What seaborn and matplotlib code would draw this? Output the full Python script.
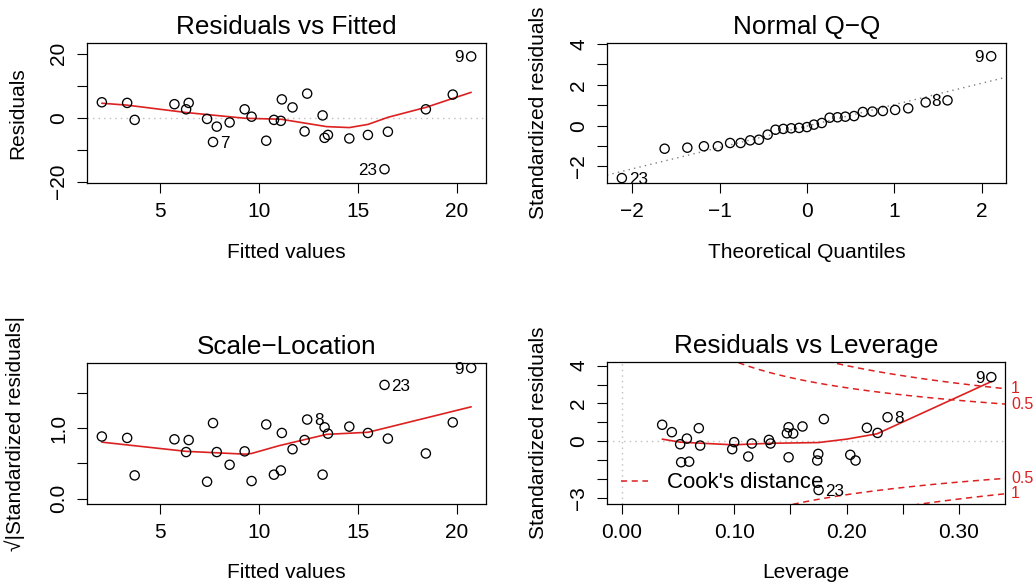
import numpy as np
import pandas as pd
import matplotlib
matplotlib.use("Agg")
import matplotlib.pyplot as plt
import seaborn as sns

# ---------------- data ----------------
fitted = [2.04, 3.32, 3.70, 5.71, 6.43, 6.30, 7.36, 7.85, 7.66, 8.50,
          9.26, 9.61, 10.35, 10.74, 11.09, 11.14, 11.68, 12.42, 12.29, 13.20,
          13.30, 13.47, 14.55, 15.49, 16.50, 16.33, 18.42, 19.78, 20.71]
residuals = [4.8, 4.6, -0.7, 4.2, 4.6, 2.6, -0.4, -2.8, -7.6, -1.5,
             2.6, 0.3, -7.2, -0.7, -1.0, 5.7, 3.2, 7.5, -4.3, 0.7,
             -6.3, -5.4, -6.5, -5.4, -4.4, -16.1, 2.6, 7.2, 19.1]
sqrt_abs_std_resid = [0.88, 0.86, 0.33, 0.84, 0.83, 0.66, 0.24, 0.66, 1.07, 0.48,
                      0.67, 0.25, 1.05, 0.34, 0.40, 0.93, 0.70, 1.12, 0.83, 0.34,
                      1.01, 0.92, 1.02, 0.93, 0.85, 1.61, 0.64, 1.08, 1.85]
theoretical_q = [-2.12, -1.63, -1.37, -1.18, -1.02, -0.88, -0.76, -0.65, -0.55, -0.45,
                 -0.36, -0.27, -0.18, -0.09, 0.00, 0.08, 0.17, 0.26, 0.35, 0.44,
                 0.54, 0.64, 0.75, 0.87, 1.01, 1.16, 1.36, 1.61, 2.11]
sample_q = [-2.57, -1.13, -1.08, -1.01, -1.01, -0.85, -0.85, -0.72, -0.69, -0.44,
            -0.20, -0.16, -0.13, -0.11, -0.07, 0.05, 0.13, 0.39, 0.41, 0.44,
            0.47, 0.67, 0.69, 0.72, 0.77, 0.85, 1.14, 1.24, 3.40]
leverage = [0.0359, 0.0445, 0.0519, 0.0579, 0.0528, 0.0599, 0.0685, 0.0697, 0.0982, 0.1000,
            0.1125, 0.1157, 0.1309, 0.1323, 0.1469, 0.1484, 0.1525, 0.1484, 0.1608, 0.1748,
            0.1739, 0.1798, 0.1751, 0.2033, 0.2080, 0.2181, 0.2276, 0.2365, 0.3288]
std_resid_lev = [0.87, 0.48, -0.16, 0.14, -1.11, -1.08, 0.69, -0.23, -0.42, -0.05,
                 -0.81, -0.12, 0.07, -0.12, 0.42, 0.74, 0.41, -0.85, 0.78, -0.67,
                 -1.02, 1.17, -2.58, -0.72, -1.02, 0.71, 0.44, 1.27, 3.39]

# smoother (red) lines
smooth_rf_x = [2.04, 3.32, 6.30, 9.30, 11.10, 13.40, 14.55, 15.50, 16.50, 18.42, 19.78, 20.71]
smooth_rf_y = [4.5, 3.9, 1.6, -0.2, -0.5, -2.8, -3.1, -2.1, 0.1, 3.2, 6.0, 7.9]
smooth_sl_x = [2.04, 6.30, 9.30, 9.61, 11.00, 13.40, 15.50, 20.71]
smooth_sl_y = [0.80, 0.67, 0.63, 0.64, 0.75, 0.91, 0.94, 1.30]
smooth_lev_x = [0.036, 0.052, 0.099, 0.132, 0.175, 0.200, 0.227, 0.329]
smooth_lev_y = [0.11, -0.05, -0.19, -0.11, -0.07, 0.11, 0.39, 3.16]

qq_line_x = [-2.29, 2.28]
qq_line_y = [-2.42, 2.37]

cook_levels = [0.5, 1]
cook_level_labels = ["0.5", "1"]
n_params = 4

# labelled points: (index, text, side)
labels_rf = [(28, "9", "left"), (25, "23", "left"), (8, "7", "right")]
labels_qq = [(0, "23", "right"), (27, "8", "left"), (28, "9", "left")]
labels_sl = [(28, "9", "left"), (25, "23", "right"), (17, "8", "right")]
labels_lev = [(28, "9", "left"), (27, "8", "right"), (22, "23", "right")]

# ---------------- style ----------------
sns.set_style("ticks")
plt.rcParams["font.family"] = ["Liberation Sans", "DejaVu Sans"]
plt.rcParams["axes.unicode_minus"] = True
plt.rcParams["text.color"] = "black"
plt.rcParams["axes.labelcolor"] = "black"
plt.rcParams["xtick.color"] = "black"
plt.rcParams["ytick.color"] = "black"

RED = "#DD2020"
W, H = 1033, 583
fig = plt.figure(figsize=(W / 100, H / 100), dpi=100)


def make_ax(left, top, right, bottom):
    return fig.add_axes([left / W, 1 - bottom / H, (right - left) / W, (bottom - top) / H])


ax1 = make_ax(87, 43, 486, 183)
ax2 = make_ax(607, 43, 1006, 183)
ax3 = make_ax(87, 363, 486, 504)
ax4 = make_ax(607, 362, 1005, 504)

TICK_FS = 15
LAB_FS = 15
TITLE_FS = 18.8
PT_FS = 12.3


def style_ax(ax, title, xlabel, ylabel, ylab_dx=-69):
    for s in ax.spines.values():
        s.set_visible(True)
        s.set_color("black")
        s.set_linewidth(0.9)
    ax.tick_params(direction="out", length=7.5, width=0.8, labelsize=TICK_FS, pad=6,
                   colors="black")
    ax.set_title(title, fontsize=TITLE_FS, pad=6.5, color="black")
    ax.set_xlabel(xlabel, fontsize=LAB_FS, color="black")
    ax.set_ylabel(ylabel, fontsize=LAB_FS, color="black")
    bb = ax.get_position()
    wpx = bb.width * W
    hpx = bb.height * H
    ax.xaxis.set_label_coords(0.5, -69 / hpx)
    ax.xaxis.label.set_va("center")
    ax.yaxis.set_label_coords(ylab_dx / wpx, 0.5)
    ax.yaxis.label.set_va("center")


def rotate_yticks(ax):
    for t in ax.get_yticklabels():
        t.set_rotation(90)
        t.set_va("center")


def points(ax, x, y):
    sns.scatterplot(x=x, y=y, ax=ax, marker="o", s=44, facecolor="none",
                    edgecolor="black", linewidth=0.95, zorder=3)


def label_points(ax, x, y, labs):
    for i, txt, side in labs:
        dx = -5 if side == "left" else 5
        ax.annotate(txt, (x[i], y[i]), xytext=(dx, -1), textcoords="offset points",
                    ha="right" if side == "left" else "left", va="center",
                    fontsize=PT_FS, color="black")


def zero_line(ax, horizontal=True, color="#BEBEBE"):
    if horizontal:
        ax.axhline(0, color=color, linestyle=(0, (1, 3)), linewidth=1, zorder=1)
    else:
        ax.axvline(0, color=color, linestyle=(0, (1, 3)), linewidth=1, zorder=1)


# ---- Panel 1: Residuals vs Fitted ----
zero_line(ax1)
points(ax1, fitted, residuals)
sns.lineplot(x=smooth_rf_x, y=smooth_rf_y, ax=ax1, color=RED, linewidth=1.2,
             sort=False, estimator=None)
label_points(ax1, fitted, residuals, labels_rf)
ax1.set_xlim(1.29, 21.46)
ax1.set_ylim(-20.4, 23.3)
ax1.set_xticks([5, 10, 15, 20])
ax1.set_yticks([-20, -10, 0, 10, 20])
ax1.set_yticklabels(["\u221220", "", "0", "", "20"])
style_ax(ax1, "Residuals vs Fitted", "Fitted values", "Residuals")
rotate_yticks(ax1)

# ---- Panel 2: Normal Q-Q ----
sns.lineplot(x=qq_line_x, y=qq_line_y, ax=ax2, color="#7F7F7F", linewidth=1,
             linestyle=(0, (1, 3)), sort=False, estimator=None)
points(ax2, theoretical_q, sample_q)
label_points(ax2, theoretical_q, sample_q, labels_qq)
ax2.set_xlim(-2.29, 2.28)
ax2.set_ylim(-2.81, 4.05)
ax2.set_xticks([-2, -1, 0, 1, 2])
ax2.set_xticklabels(["\u22122", "\u22121", "0", "1", "2"])
ax2.set_yticks([-2, -1, 0, 1, 2, 3, 4])
ax2.set_yticklabels(["\u22122", "", "0", "", "2", "", "4"])
style_ax(ax2, "Normal Q\u2212Q", "Theoretical Quantiles", "Standardized residuals")
rotate_yticks(ax2)

# ---- Panel 3: Scale-Location ----
points(ax3, fitted, sqrt_abs_std_resid)
sns.lineplot(x=smooth_sl_x, y=smooth_sl_y, ax=ax3, color=RED, linewidth=1.2,
             sort=False, estimator=None)
label_points(ax3, fitted, sqrt_abs_std_resid, labels_sl)
ax3.set_xlim(1.29, 21.46)
ax3.set_ylim(-0.075, 1.92)
ax3.set_xticks([5, 10, 15, 20])
ax3.set_yticks([0, 0.5, 1.0, 1.5])
ax3.set_yticklabels(["0.0", "", "1.0", ""])
style_ax(ax3, "Scale\u2212Location", "Fitted values", "\u221a|Standardized residuals|",
         ylab_dx=-72)
rotate_yticks(ax3)

# ---- Panel 4: Residuals vs Leverage ----
xmin4, xmax4 = -0.0132, 0.341
ymin4, ymax4 = -3.32, 4.19
zero_line(ax4)
zero_line(ax4, horizontal=False)
hh = np.linspace(0.005, xmax4, 101)
for k, (lev, lev_txt) in enumerate(zip(cook_levels, cook_level_labels)):
    cy = np.sqrt(lev * n_params * (1 - hh) / hh)
    for sgn in (1, -1):
        sns.lineplot(x=hh, y=sgn * cy, ax=ax4, color=RED, linewidth=1.1,
                     linestyle=(0, (4, 3)), sort=False, estimator=None,
                     label="Cook's distance" if (k == 0 and sgn == 1) else None)
        yend = sgn * np.sqrt(lev * n_params * (1 - xmax4) / xmax4)
        ax4.annotate(lev_txt, (xmax4, yend), xytext=(4.3, 0), textcoords="offset points",
                     color=RED, fontsize=11.5, ha="left", va="center",
                     annotation_clip=False)
points(ax4, leverage, std_resid_lev)
sns.lineplot(x=smooth_lev_x, y=smooth_lev_y, ax=ax4, color=RED, linewidth=1.2,
             sort=False, estimator=None)
label_points(ax4, leverage, std_resid_lev, labels_lev)
ax4.set_xlim(xmin4, xmax4)
ax4.set_ylim(ymin4, ymax4)
ax4.set_xticks([0, 0.05, 0.10, 0.15, 0.20, 0.25, 0.30])
ax4.set_xticklabels(["0.00", "", "0.10", "", "0.20", "", "0.30"])
ax4.set_yticks([-3, -2, -1, 0, 1, 2, 3, 4])
ax4.set_yticklabels(["\u22123", "", "", "0", "", "2", "", "4"])
style_ax(ax4, "Residuals vs Leverage", "Leverage", "Standardized residuals")
rotate_yticks(ax4)
leg = ax4.legend(loc="center left", bbox_to_anchor=(0.036, 0.148), frameon=False,
                 fontsize=16, handlelength=1.2, handletextpad=0.85, borderpad=0,
                 borderaxespad=0)
for t in leg.get_texts():
    t.set_color("black")

fig.savefig("out.png", dpi=100)
